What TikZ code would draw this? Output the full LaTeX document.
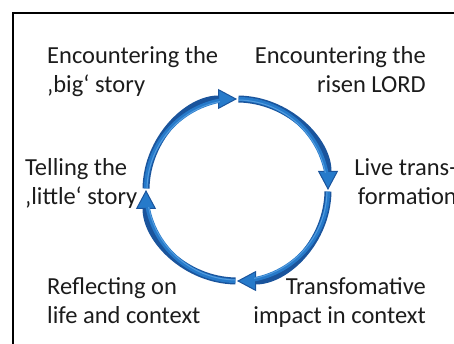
\documentclass[tikz,border=0pt]{standalone}
\usepackage{fontspec}
\setmainfont{Carlito}
\usetikzlibrary{arrows.meta}

\definecolor{cycdark}{RGB}{26,84,156}
\definecolor{cycblue}{RGB}{38,122,202}
\definecolor{cyclight}{RGB}{84,156,222}
\definecolor{labeltext}{RGB}{28,28,28}

\tikzset{
  label text/.style={inner sep=0pt, text=labeltext, align=#1,
    font=\fontsize{24.5pt}{29.5pt}\selectfont},
  cycle outer/.style={draw=cycdark, line width=7pt,
    -{Triangle[width=20pt,length=19pt,line width=1pt,fill=cycblue]}},
  cycle inner/.style={draw=cycblue, line width=4.2pt},
  cycle shine/.style={draw=cyclight, line width=1pt},
  frame line/.style={draw=black, line width=2pt}
}

\begin{document}
\begin{tikzpicture}[x=1pt,y=1pt]
  \useasboundingbox (0,0) rectangle (454,344);
  \clip (0,0) rectangle (454,344);

  % outer frame, open towards the right and the bottom
  \draw[frame line] (13,-5) |- (460,331);

  % centre of the cycle
  \coordinate (c) at (237,154);

  % four clockwise quarter arcs, each ending in an arrow head
  \foreach \s/\e in {179/90, 89/0, -1/-90, -91/-180}{
    \draw[cycle outer] (c) ++(\s:91pt) arc[start angle=\s, end angle=\e, radius=91pt];
    \pgfmathsetmacro{\ie}{\e+11}
    \draw[cycle inner] (c) ++(\s:91pt) arc[start angle=\s, end angle=\ie, radius=91pt];
    \draw[cycle shine] (c) ++(\s:90pt) arc[start angle=\s, end angle=\ie, radius=90pt];
  }

  % labels around the cycle (anchored on the baseline of their last line)
  \node[label text=left,  anchor=base west] (bigstory)    at (47,251)  {Encountering the\\‚big‘ story};
  \node[label text=right, anchor=base east] (risenlord)   at (426,251) {Encountering the\\risen LORD};
  \node[label text=left,  anchor=base west] (littlestory) at (25,139)  {Telling the\\‚little‘ story};
  \node[label text=right, anchor=base east] (livetrans)   at (457,139) {Live trans-\\formation};
  \node[label text=left,  anchor=base west] (reflecting)  at (47,20)   {Reflecting on\\life and context};
  \node[label text=right, anchor=base east] (impact)      at (426,20)  {Transfomative\\impact in context};
\end{tikzpicture}
\end{document}
